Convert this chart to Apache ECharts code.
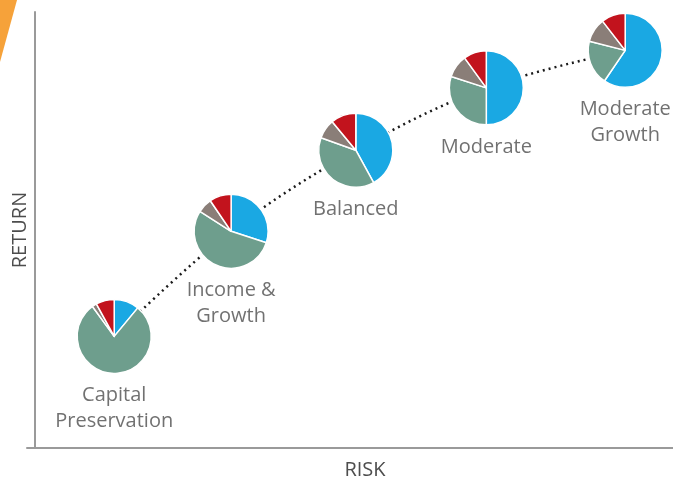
<!DOCTYPE html>
<html>
<head>
<meta charset="utf-8">
<script src="https://cdn.jsdelivr.net/npm/echarts@6/dist/echarts.min.js"></script>
<style>
html,body{margin:0;padding:0;background:#fff;}
#c{width:673px;height:480px;}
</style>
</head>
<body>
<div id="c"></div>
<script>
// ---- data ----
const categories = ['Capital\nPreservation', 'Income &\nGrowth', 'Balanced', 'Moderate', 'Moderate\nGrowth'];
const riskValues = [1.35, 3.16, 5.09, 7.11, 9.26];
const returnValues = [2.56, 4.97, 6.83, 8.26, 9.12];
const sliceNames = ['Stocks', 'Bonds', 'Other', 'Cash'];
const blueShare = [11, 30, 42, 50, 59.5];
const greenShare = [79, 54, 38.5, 30, 19.5];
const grayShare = [2, 6.5, 8.5, 10, 10.5];
const redShare = [8, 9.5, 11, 10, 10.5];
const axisNames = { x: 'RISK', y: 'RETURN' };

// ---- chart ----
const sliceColors = ['#1AA8E3', '#6E9E8D', '#8A7E78', '#C2131D'];
const font = "'Open Sans', 'Noto Sans', sans-serif";
const chart = echarts.init(document.getElementById('c'), null, { renderer: 'canvas' });

const points = riskValues.map((x, i) => [x, returnValues[i], categories[i]]);

const baseOption = {
  animation: false,
  backgroundColor: '#fff',
  grid: { left: 27, right: 0, top: 12, bottom: 32, outerBoundsMode: 'none', containLabel: false },
  xAxis: {
    type: 'value', min: 0, max: 10,
    name: axisNames.x, nameLocation: 'middle', nameGap: 12,
    nameTextStyle: { color: '#4d4d4d', fontSize: 20, fontFamily: font, padding: [0, 0, 0, 30] },
    axisLine: { show: true, onZero: false, lineStyle: { color: '#9a9a9a', width: 2 } },
    axisTick: { show: false }, axisLabel: { show: false }, splitLine: { show: false }
  },
  yAxis: {
    type: 'value', min: 0, max: 10, offset: -8,
    name: axisNames.y, nameLocation: 'middle', nameGap: 5, nameRotate: 90,
    nameTextStyle: { color: '#4d4d4d', fontSize: 20, fontFamily: font },
    axisLine: { show: true, onZero: false, lineStyle: { color: '#9a9a9a', width: 2 } },
    axisTick: { show: false }, axisLabel: { show: false }, splitLine: { show: false }
  },
  graphic: [{
    type: 'polygon', left: 0, top: 0,
    shape: { points: [[0, 0], [17, 0], [0, 62]] },
    style: { fill: '#F6A23A' }
  }],
  series: [
    {
      type: 'line', data: points, smooth: 0.35, symbol: 'none', z: 1,
      lineStyle: { color: '#1a1a1a', width: 2.5, type: [2, 4] }
    },
    {
      type: 'scatter', data: points, symbolSize: 0, z: 5,
      label: {
        show: true, position: 'bottom', distance: 46,
        formatter: p => p.data[2],
        color: '#4d4d4d', fontSize: 20, lineHeight: 26, fontFamily: font, align: 'center'
      }
    }
  ]
};
chart.setOption(baseOption);

const pies = points.map((pt, i) => {
  const c = chart.convertToPixel({ gridIndex: 0 }, [pt[0], pt[1]]);
  const vals = [blueShare[i], greenShare[i], grayShare[i], redShare[i]];
  return {
    type: 'pie', center: c, radius: 37, startAngle: 90, clockwise: true, z: 3,
    label: { show: false }, labelLine: { show: false }, silent: true,
    itemStyle: { borderColor: '#fff', borderWidth: 1.5 },
    data: vals.map((v, k) => ({ name: sliceNames[k], value: v, itemStyle: { color: sliceColors[k] } }))
  };
});
chart.setOption({ series: baseOption.series.concat(pies) });
</script>
</body>
</html>
